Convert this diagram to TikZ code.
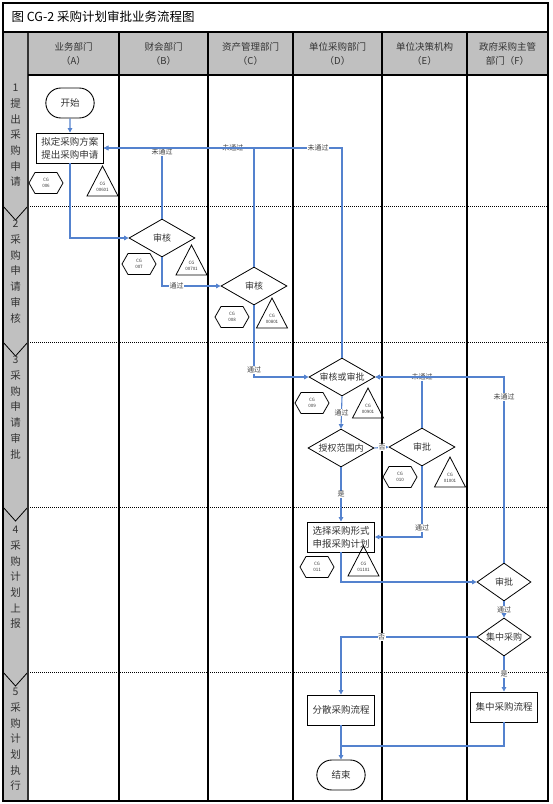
\documentclass[tikz,border=0pt]{standalone}
\usepackage{fontspec}
\setmainfont{Noto Sans CJK SC}
\usetikzlibrary{shapes.geometric,shapes.misc,arrows.meta}

\definecolor{flowblue}{RGB}{84,130,206}
\definecolor{lanegray}{RGB}{192,192,192}

\tikzset{
  box/.style={draw,line width=0.9pt,minimum width=67pt,minimum height=30pt,inner sep=1pt,
    align=center,font=\fontsize{9.5}{13}\selectfont,text=black!80},
  term/.style={rounded rectangle,draw,line width=0.9pt,minimum width=55pt,minimum height=30pt,
    font=\fontsize{9.5}{12}\selectfont,text=black!80},
  check/.style={diamond,draw,line width=0.8pt,minimum width=66pt,minimum height=38pt,
    inner sep=0pt,aspect=1.7,font=\fontsize{9}{11}\selectfont,text=black!80},
  flow/.style={draw=flowblue,line width=1.1pt,-{Triangle[width=4.5pt,length=4.5pt]}},
  link/.style={draw=flowblue,line width=1.1pt},
  lbl/.style={fill=white,inner sep=0.6pt,font=\fontsize{7}{8}\selectfont,text=black!75},
  cgtxt/.style={inner sep=0pt,align=center,font=\fontsize{4.5}{5.5}\selectfont,text=black!80},
  cgshape/.style={draw,line width=0.8pt},
  lane/.style={line width=1.1pt},
  rowsep/.style={line width=0.6pt,dash pattern=on 1pt off 1pt},
  hdr/.style={align=center,font=\fontsize{9.5}{14}\selectfont,text=black!80},
  rowlbl/.style={anchor=north,align=center,inner sep=0pt,font=\fontsize{10.5}{15.7}\selectfont,text=black!80}
}

% CG marks: hexagon (name, x, y, text) and triangle (name, x, base y, text)
\newcommand{\cghex}[4]{%
  \draw[cgshape] (#2-17,#3) -- (#2-11,#3-10.5) -- (#2+11,#3-10.5) -- (#2+17,#3)
    -- (#2+11,#3+10.5) -- (#2-11,#3+10.5) -- cycle;
  \node[cgtxt] (#1) at (#2,#3) {#4};}
\newcommand{\cgtri}[4]{%
  \draw[cgshape] (#2-15.5,#3) -- (#2,#3-30) -- (#2+15.5,#3) -- cycle;
  \node[cgtxt] (#1) at (#2,#3-9) {#4};}

\begin{document}
\begin{tikzpicture}[x=1pt,y=-1pt]
\useasboundingbox (0,0) rectangle (553,804);

% swimlanes
\fill[lanegray] (28,32) rectangle (548,75);
\fill[lanegray] (3,32) rectangle (28,801);
\foreach \y in {206,342,507,672}
  \draw[rowsep] (28,\y) -- (548,\y);
\foreach \y in {206,342,507,672}
  \draw[line width=0.8pt] (3,\y) -- (15.5,\y+14) -- (28,\y);
\foreach \x in {119,208,293,382,467}
  \draw[lane] (\x,32) -- (\x,801);
\draw[line width=1.6pt,black!80] (28,32) -- (28,801);
\draw[lane] (28,75) -- (548,75);
\draw[line width=1.3pt] (3,3) rectangle (548,801);
\draw[line width=1.3pt] (3,32) -- (548,32);

\node[anchor=west,font=\fontsize{12.5}{15}\selectfont] (title) at (8,17) {图 CG-2 采购计划审批业务流程图};

\node[hdr] (laneA) at (73.5,54) {业务部门\\（A）};
\node[hdr] (laneB) at (163.5,54) {财会部门\\（B）};
\node[hdr] (laneC) at (250.5,54) {资产管理部门\\（C）};
\node[hdr] (laneD) at (337.5,54) {单位采购部门\\（D）};
\node[hdr] (laneE) at (424.5,54) {单位决策机构\\（E）};
\node[hdr] (laneF) at (507.5,54) {政府采购主管\\部门（F）};

\node[rowlbl] (row1) at (15.5,84) {1\\提\\出\\采\\购\\申\\请};
\node[rowlbl] (row2) at (15.5,220) {2\\采\\购\\申\\请\\审\\核};
\node[rowlbl] (row3) at (15.5,356) {3\\采\\购\\申\\请\\审\\批};
\node[rowlbl] (row4) at (15.5,526) {4\\采\\购\\计\\划\\上\\报};
\node[rowlbl] (row5) at (15.5,688) {5\\采\\购\\计\\划\\执\\行};

% steps
\node[term] (start) at (70,103) {开始};
\node[box] (draft) at (70,148) {拟定采购方案\\提出采购申请};
\node[check] (chkB) at (162,238) {审核};
\node[check] (chkC) at (254,286) {审核};
\node[check] (chkD) at (342,377) {审核或审批};
\node[check] (scope) at (341,448) {授权范围内};
\node[check] (apprE) at (422,447) {审批};
\node[box] (form) at (341,537) {选择采购形式\\申报采购计划};
\node[check,minimum width=54pt,aspect=1.4] (apprF) at (504,582) {审批};
\node[check,minimum width=54pt,aspect=1.4] (central) at (504,637) {集中采购};
\node[box] (dispersed) at (341,710) {分散采购流程};
\node[box] (centralflow) at (504,707) {集中采购流程};
\node[term] (finish) at (341,775) {结束};
\coordinate (join) at (341,746);

% CG marks
\cghex{hex006}{46}{183}{CG\\006}
\cgtri{tri00601}{102.5}{196}{CG\\00601}
\cghex{hex007}{139}{264}{CG\\007}
\cgtri{tri00701}{191.5}{275}{CG\\00701}
\cghex{hex008}{232}{317}{CG\\008}
\cgtri{tri00801}{272}{328}{CG\\00801}
\cghex{hex009}{312}{403}{CG\\009}
\cgtri{tri00901}{368}{418}{CG\\00901}
\cghex{hex010}{400}{477}{CG\\010}
\cgtri{tri01001}{450}{487}{CG\\01001}
\cghex{hex011}{317}{567}{CG\\011}
\cgtri{tri01101}{363.5}{576}{CG\\01101}

% connectors
\draw[flow] (start) -- (draft);
\draw[flow] (draft.south) |- (chkB.west);
\draw[flow] (chkB.north) |- node[lbl,pos=0.47] {未通过} (draft.east);
\draw[flow] (chkC.north) |- node[lbl,pos=0.57] {未通过} (draft.east);
\draw[flow] (chkD.north) |- node[lbl,pos=0.55] {未通过} (draft.east);
\draw[flow] (chkB.south) |- node[lbl,pos=0.625] {通过} (chkC.west);
\draw[flow] (chkC.south) |- node[lbl,pos=0.45] {通过} (chkD.west);
\draw[flow] (chkD.south) -- node[lbl] {通过} (scope.north);
\draw[flow] (scope.east) -- node[lbl,pos=0.55] {否} (apprE.west);
\draw[flow] (apprE.north) |- node[lbl,pos=0.5] {未通过} (chkD.east);
\draw[flow] (apprE.south) |- node[lbl,pos=0.435] {通过} (form.east);
\draw[flow] (scope.south) -- node[lbl] {是} (form.north);
\draw[flow] (form.south) |- (apprF.west);
\draw[flow] (apprF.north) |- node[lbl,pos=0.446] {未通过} (chkD.east);
\draw[flow] (apprF.south) -- node[lbl] {通过} (central.north);
\draw[flow] (central.west) -| node[lbl,pos=0.35] {否} (dispersed.north);
\draw[flow] (central.south) -- node[lbl] {是} (centralflow.north);
\draw[flow] (dispersed.south) -- (finish.north);
\draw[link] (centralflow.south) |- (join);
\end{tikzpicture}
\end{document}
